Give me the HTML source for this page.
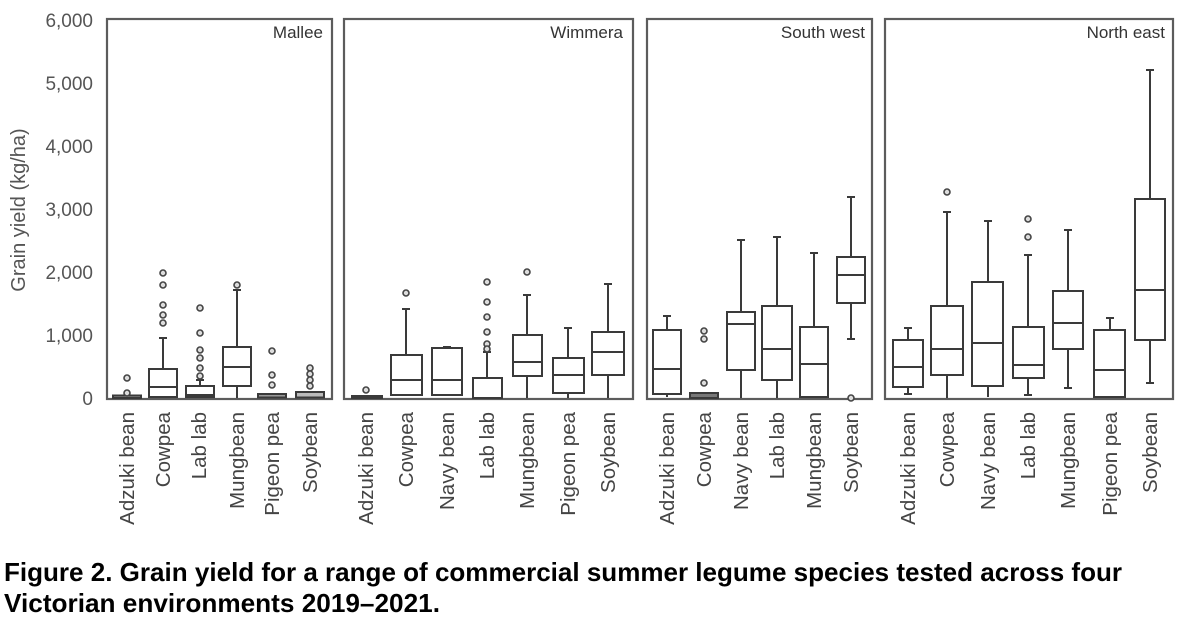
<!DOCTYPE html>
<html><head><meta charset="utf-8"><style>
html,body{margin:0;padding:0;background:#fff;}
svg{display:block;}
text{font-family:"Liberation Sans",Arial,sans-serif;}
</style></head><body>
<svg width="1188" height="618" viewBox="0 0 1188 618" xmlns="http://www.w3.org/2000/svg">
<rect width="1188" height="618" fill="#fff"/>
<!-- y ticks -->
<g font-size="19" fill="#555" text-anchor="end">
<text x="93" y="27">6,000</text>
<text x="93" y="90">5,000</text>
<text x="93" y="153">4,000</text>
<text x="93" y="216">3,000</text>
<text x="93" y="279">2,000</text>
<text x="93" y="342">1,000</text>
<text x="93" y="405">0</text>
</g>
<text transform="translate(25,210) rotate(-90)" font-size="20" fill="#555" text-anchor="middle">Grain yield (kg/ha)</text>
<!-- frames -->
<g fill="none" stroke="#5c5c5c" stroke-width="2.2">
<rect x="107" y="19" width="225" height="380"/>
<rect x="344" y="19" width="289" height="380"/>
<rect x="647" y="19" width="225" height="380"/>
<rect x="885" y="19" width="288" height="380"/>
</g>
<g font-size="17" fill="#333" text-anchor="end">
<text x="323" y="38">Mallee</text>
<text x="623" y="38">Wimmera</text>
<text x="865" y="38">South west</text>
<text x="1165" y="38">North east</text>
</g>
<!-- boxes -->
<g fill="none" stroke="#3a3a3a" stroke-width="2">
<!-- Mallee -->
<rect x="113" y="395.5" width="28" height="2.5" fill="#999"/>
<line x1="163" y1="338" x2="163" y2="369"/><line x1="159" y1="338" x2="167" y2="338"/>
<rect x="149" y="369" width="28" height="28"/><line x1="149" y1="387" x2="177" y2="387"/>
<line x1="200" y1="380" x2="200" y2="386"/><line x1="196" y1="380" x2="204" y2="380"/>
<rect x="186" y="386" width="28" height="11"/><line x1="186" y1="395" x2="214" y2="395"/>
<line x1="237" y1="290" x2="237" y2="347"/><line x1="233" y1="290" x2="241" y2="290"/>
<line x1="237" y1="386" x2="237" y2="398"/>
<rect x="223" y="347" width="28" height="39"/><line x1="223" y1="367" x2="251" y2="367"/>
<rect x="258" y="394" width="28" height="3.5" fill="#999"/>
<rect x="296" y="392" width="28" height="5.5" fill="#bbb"/>
<!-- Wimmera -->
<rect x="352" y="396" width="30" height="2" fill="#999"/>
<line x1="406" y1="309" x2="406" y2="355"/><line x1="402" y1="309" x2="410" y2="309"/>
<rect x="391" y="355" width="31" height="40"/><line x1="391" y1="380" x2="422" y2="380"/>
<line x1="443" y1="347" x2="451" y2="347"/>
<rect x="432" y="348" width="30" height="47"/><line x1="432" y1="380" x2="462" y2="380"/>
<line x1="487" y1="352" x2="487" y2="378"/><line x1="483" y1="352" x2="491" y2="352"/>
<rect x="473" y="378" width="29" height="20"/>
<line x1="527" y1="295" x2="527" y2="335"/><line x1="523" y1="295" x2="531" y2="295"/>
<line x1="527" y1="376" x2="527" y2="398"/>
<rect x="513" y="335" width="29" height="41"/><line x1="513" y1="362" x2="542" y2="362"/>
<line x1="568" y1="328" x2="568" y2="358"/><line x1="564" y1="328" x2="572" y2="328"/>
<line x1="568" y1="393" x2="568" y2="398"/>
<rect x="553" y="358" width="31" height="35"/><line x1="553" y1="375" x2="584" y2="375"/>
<line x1="608" y1="284" x2="608" y2="332"/><line x1="604" y1="284" x2="612" y2="284"/>
<line x1="608" y1="375" x2="608" y2="398"/>
<rect x="592" y="332" width="32" height="43"/><line x1="592" y1="352" x2="624" y2="352"/>
<!-- South west -->
<line x1="667" y1="316" x2="667" y2="330"/><line x1="663" y1="316" x2="671" y2="316"/>
<line x1="667" y1="394" x2="667" y2="397"/>
<rect x="653" y="330" width="28" height="64"/><line x1="653" y1="369" x2="681" y2="369"/>
<rect x="690" y="393" width="28" height="5" fill="#777"/>
<line x1="741" y1="240" x2="741" y2="312"/><line x1="737" y1="240" x2="745" y2="240"/>
<line x1="741" y1="370" x2="741" y2="398"/>
<rect x="727" y="312" width="28" height="58"/><line x1="727" y1="324" x2="755" y2="324"/>
<line x1="777" y1="237" x2="777" y2="306"/><line x1="773" y1="237" x2="781" y2="237"/>
<line x1="777" y1="380" x2="777" y2="398"/>
<rect x="762" y="306" width="30" height="74"/><line x1="762" y1="349" x2="792" y2="349"/>
<line x1="814" y1="253" x2="814" y2="327"/><line x1="810" y1="253" x2="818" y2="253"/>
<rect x="800" y="327" width="28" height="70"/><line x1="800" y1="364" x2="828" y2="364"/>
<line x1="851" y1="197" x2="851" y2="257"/><line x1="847" y1="197" x2="855" y2="197"/>
<line x1="851" y1="303" x2="851" y2="339"/><line x1="847" y1="339" x2="855" y2="339"/>
<rect x="837" y="257" width="28" height="46"/><line x1="837" y1="275" x2="865" y2="275"/>
<!-- North east -->
<line x1="908" y1="328" x2="908" y2="340"/><line x1="904" y1="328" x2="912" y2="328"/>
<line x1="908" y1="387" x2="908" y2="394"/><line x1="904" y1="394" x2="912" y2="394"/>
<rect x="893" y="340" width="30" height="47"/><line x1="893" y1="367" x2="923" y2="367"/>
<line x1="947" y1="212" x2="947" y2="306"/><line x1="943" y1="212" x2="951" y2="212"/>
<line x1="947" y1="375" x2="947" y2="398"/>
<rect x="931" y="306" width="32" height="69"/><line x1="931" y1="349" x2="963" y2="349"/>
<line x1="988" y1="221" x2="988" y2="282"/><line x1="984" y1="221" x2="992" y2="221"/>
<line x1="988" y1="386" x2="988" y2="397"/>
<rect x="972" y="282" width="31" height="104"/><line x1="972" y1="343" x2="1003" y2="343"/>
<line x1="1028" y1="255" x2="1028" y2="327"/><line x1="1024" y1="255" x2="1032" y2="255"/>
<line x1="1028" y1="378" x2="1028" y2="395"/><line x1="1024" y1="395" x2="1032" y2="395"/>
<rect x="1013" y="327" width="31" height="51"/><line x1="1013" y1="365" x2="1044" y2="365"/>
<line x1="1068" y1="230" x2="1068" y2="291"/><line x1="1064" y1="230" x2="1072" y2="230"/>
<line x1="1068" y1="349" x2="1068" y2="388"/><line x1="1064" y1="388" x2="1072" y2="388"/>
<rect x="1053" y="291" width="30" height="58"/><line x1="1053" y1="323" x2="1083" y2="323"/>
<line x1="1110" y1="318" x2="1110" y2="330"/><line x1="1106" y1="318" x2="1114" y2="318"/>
<rect x="1094" y="330" width="31" height="67"/><line x1="1094" y1="370" x2="1125" y2="370"/>
<line x1="1150" y1="70" x2="1150" y2="199"/><line x1="1146" y1="70" x2="1154" y2="70"/>
<line x1="1150" y1="340" x2="1150" y2="383"/><line x1="1146" y1="383" x2="1154" y2="383"/>
<rect x="1135" y="199" width="30" height="141"/><line x1="1135" y1="290" x2="1165" y2="290"/>
</g>
<!-- outliers -->
<g fill="#ddd" stroke="#444" stroke-width="1.6">
<circle cx="127" cy="378" r="3"/><circle cx="127" cy="393" r="3"/>
<circle cx="163" cy="273" r="3"/><circle cx="163" cy="285" r="3"/><circle cx="163" cy="305" r="3"/><circle cx="163" cy="315" r="3"/><circle cx="163" cy="323" r="3"/>
<circle cx="200" cy="308" r="3"/><circle cx="200" cy="333" r="3"/><circle cx="200" cy="350" r="3"/><circle cx="200" cy="358" r="3"/><circle cx="200" cy="368" r="3"/><circle cx="200" cy="376" r="3"/>
<circle cx="237" cy="285" r="3"/>
<circle cx="272" cy="351" r="3"/><circle cx="272" cy="375" r="3"/><circle cx="272" cy="385" r="3"/>
<circle cx="310" cy="368" r="3"/><circle cx="310" cy="374" r="3"/><circle cx="310" cy="380" r="3"/><circle cx="310" cy="386" r="3"/>
<circle cx="366" cy="390" r="3"/>
<circle cx="406" cy="293" r="3"/>
<circle cx="487" cy="282" r="3"/><circle cx="487" cy="302" r="3"/><circle cx="487" cy="317" r="3"/><circle cx="487" cy="332" r="3"/><circle cx="487" cy="344" r="3"/><circle cx="487" cy="349" r="3"/>
<circle cx="527" cy="272" r="3"/>
<circle cx="704" cy="331" r="3"/><circle cx="704" cy="339" r="3"/><circle cx="704" cy="383" r="3"/>
<circle cx="851" cy="398" r="3"/>
<circle cx="947" cy="192" r="3"/>
<circle cx="1028" cy="219" r="3"/><circle cx="1028" cy="237" r="3"/>
</g>
<!-- x labels -->
<g font-size="20.5" fill="#444" text-anchor="end">
<text transform="translate(134,412) rotate(-90)">Adzuki bean</text>
<text transform="translate(170,412) rotate(-90)">Cowpea</text>
<text transform="translate(206,412) rotate(-90)">Lab lab</text>
<text transform="translate(244,412) rotate(-90)">Mungbean</text>
<text transform="translate(279,412) rotate(-90)">Pigeon pea</text>
<text transform="translate(317,412) rotate(-90)">Soybean</text>
<text transform="translate(373,412) rotate(-90)">Adzuki bean</text>
<text transform="translate(413,412) rotate(-90)">Cowpea</text>
<text transform="translate(454,412) rotate(-90)">Navy bean</text>
<text transform="translate(494,412) rotate(-90)">Lab lab</text>
<text transform="translate(534,412) rotate(-90)">Mungbean</text>
<text transform="translate(575,412) rotate(-90)">Pigeon pea</text>
<text transform="translate(615,412) rotate(-90)">Soybean</text>
<text transform="translate(674,412) rotate(-90)">Adzuki bean</text>
<text transform="translate(711,412) rotate(-90)">Cowpea</text>
<text transform="translate(748,412) rotate(-90)">Navy bean</text>
<text transform="translate(784,412) rotate(-90)">Lab lab</text>
<text transform="translate(821,412) rotate(-90)">Mungbean</text>
<text transform="translate(858,412) rotate(-90)">Soybean</text>
<text transform="translate(915,412) rotate(-90)">Adzuki bean</text>
<text transform="translate(954,412) rotate(-90)">Cowpea</text>
<text transform="translate(995,412) rotate(-90)">Navy bean</text>
<text transform="translate(1035,412) rotate(-90)">Lab lab</text>
<text transform="translate(1075,412) rotate(-90)">Mungbean</text>
<text transform="translate(1117,412) rotate(-90)">Pigeon pea</text>
<text transform="translate(1157,412) rotate(-90)">Soybean</text>
</g>
<!-- caption -->
<g font-size="26" font-weight="bold" fill="#000">
<text x="4" y="581" textLength="1118" lengthAdjust="spacingAndGlyphs">Figure 2. Grain yield for a range of commercial summer legume species tested across four</text>
<text x="4" y="612" textLength="436" lengthAdjust="spacingAndGlyphs">Victorian environments 2019–2021.</text>
</g>
</svg>
</body></html>
